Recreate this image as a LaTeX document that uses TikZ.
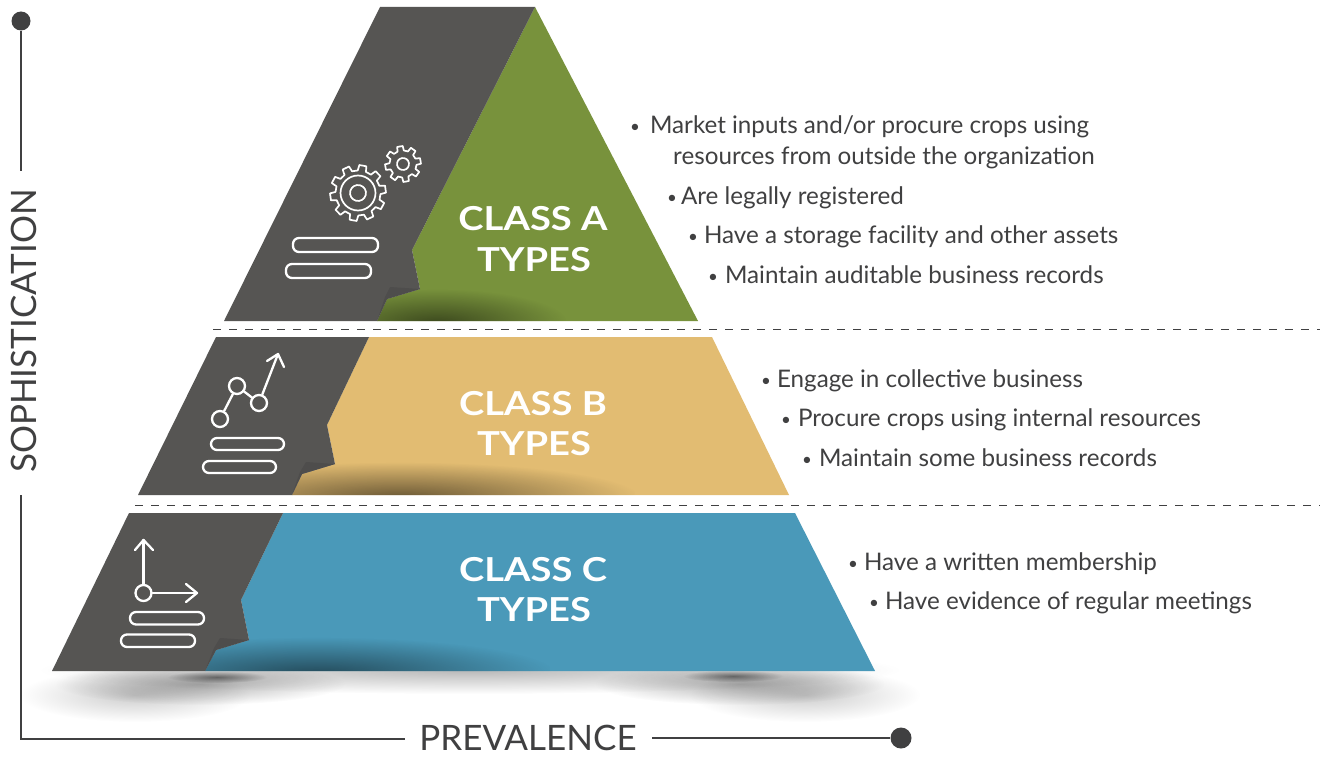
\documentclass[tikz,border=0pt]{standalone}
\usepackage{fontspec}
\setmainfont{Lato}
\newfontfamily\ttlfont[FakeStretch=1.155]{Lato}
\usetikzlibrary{fadings,arrows.meta}
\definecolor{ink}{HTML}{404041}
\definecolor{slate}{HTML}{565553}
\definecolor{folds}{HTML}{4E4D4C}
\definecolor{cgreen}{HTML}{78923C}
\definecolor{ctan}{HTML}{E2BC72}
\definecolor{cblue}{HTML}{4A99B9}
\tikzfading[name=softdot, inner color=transparent!0, outer color=transparent!100]
\newcommand{\bu}{{\fontsize{17}{17}\selectfont\raisebox{1.5pt}{•}}}
\tikzset{
  bul/.style={anchor=base west, inner sep=0pt, text=ink, font=\fontsize{24.2}{28}\selectfont},
  ttl/.style={inner sep=0pt, text=white, font=\fontsize{33}{38}\ttlfont\bfseries},
  axl/.style={inner sep=0pt, text=ink, font=\fontsize{35}{40}\selectfont},
  axis/.style={draw=ink, line width=2pt},
  dashy/.style={draw=ink, line width=1pt, dash pattern=on 8pt off 8pt},
  icon/.style={draw=white, line width=2.3pt, line join=round, line cap=round},
  pill/.style={icon, rounded corners=6pt},
  ring/.style={circle, draw=white, line width=2.3pt, inner sep=0pt, minimum size=16pt},
  soft/.style={fill=black, path fading=softdot},
}
\newcommand{\gearshape}[7]{% cx cy rout rin teeth rot hole
  \begin{scope}[shift={(#1,#2)}, rotate=#6]
    \pgfmathsetmacro{\stepang}{360/#5}
    \draw[draw=white, line width=1.7pt, line join=round]
      (-0.30*\stepang:#4)
      foreach \k in {1,...,#5} {
        -- ({(\k-1)*\stepang-0.20*\stepang}:#3)
        -- ({(\k-1)*\stepang+0.20*\stepang}:#3)
        -- ({(\k-1)*\stepang+0.30*\stepang}:#4)
        -- ({\k*\stepang-0.30*\stepang}:#4)
      } -- cycle;
    \draw[draw=white, line width=1.7pt] (0,0) circle [radius=#7];
  \end{scope}}
\begin{document}
\begin{tikzpicture}[x=1pt,y=-1pt]
\useasboundingbox (0,0) rectangle (1321,757);
\fill[white] (0,0) rectangle (1321,757);

% floor shadow
\fill[soft, opacity=.28] (470,670) ellipse [x radius=430, y radius=24];
\fill[soft, opacity=.20] (135,695) ellipse [x radius=115, y radius=27];
\fill[soft, opacity=.20] (805,695) ellipse [x radius=115, y radius=27];
\fill[soft, opacity=.30] (200,684) ellipse [x radius=145, y radius=21];
\fill[soft, opacity=.30] (740,684) ellipse [x radius=145, y radius=21];
\fill[soft, opacity=.45] (217,677) ellipse [x radius=50, y radius=6];
\fill[soft, opacity=.45] (733,676) ellipse [x radius=50, y radius=6];

% class A
\path[fill=cgreen] (535,7) -- (698,321) -- (377,321) -- (387,299) -- (420,289) -- (412,250) -- cycle;
\begin{scope}
  \clip (535,7) -- (698,321) -- (377,321) -- (387,299) -- (420,289) -- (412,250) -- cycle;
  \fill[soft, opacity=.50] (437,323) ellipse [x radius=130, y radius=34];
\end{scope}
\fill[slate] (380,7) -- (535,7) -- (412,250) -- (420,289) -- (387,299) -- (377,321) -- (224,321) -- cycle;
\fill[folds] (377,321) -- (387,299) -- (420,289) -- (390,287) -- (385,297) -- cycle;

% class B
\path[fill=ctan] (369,337) -- (712,337) -- (789,495) -- (292,495) -- (302,474) -- (335,464) -- (327,425) -- cycle;
\begin{scope}
  \clip (369,337) -- (635,337) -- (635,495) -- (292,495) -- (302,474) -- (335,464) -- (327,425) -- cycle;
  \fill[soft, opacity=.52] (400,497) ellipse [x radius=238, y radius=35];
\end{scope}
\fill[slate] (216,337) -- (369,337) -- (327,425) -- (335,464) -- (302,474) -- (292,495) -- (138,495) -- cycle;
\fill[folds] (292,495) -- (302,474) -- (335,464) -- (306,462) -- (300,472) -- cycle;

% class C
\path[fill=cblue] (283,513) -- (795,513) -- (875,671) -- (205,671) -- (216,650) -- (249,640) -- (241,600) -- cycle;
\begin{scope}
  \clip (283,513) -- (550,513) -- (550,671) -- (205,671) -- (216,650) -- (249,640) -- (241,600) -- cycle;
  \fill[soft, opacity=.50] (316,673) ellipse [x radius=238, y radius=36];
\end{scope}
\fill[slate] (129,513) -- (283,513) -- (241,600) -- (249,640) -- (216,650) -- (205,671) -- (52,671) -- cycle;
\fill[folds] (205,671) -- (216,650) -- (249,640) -- (220,638) -- (214,648) -- cycle;

% dashed separators
\coordinate (da1) at (213,329.5); \coordinate (da2) at (1320,329.5);
\coordinate (db1) at (135,505); \coordinate (db2) at (1320,505);
\draw[dashy] (da1) -- (da2);
\draw[dashy] (db1) -- (db2);

% titles
\node[ttl] (ta1) at (533,219) {CLASS A};
\node[ttl] (ta2) at (534,260) {TYPES};
\node[ttl] (tb1) at (533,404) {CLASS B};
\node[ttl] (tb2) at (534,444) {TYPES};
\node[ttl] (tc1) at (533,570) {CLASS C};
\node[ttl] (tc2) at (534,610) {TYPES};

% bullets
\node[bul] (a1) at (630,133.5) {\bu\hspace{10pt}Market inputs and/or procure crops using};
\node[bul] (a1b) at (673,164.5) {resources from outside the organization};
\node[bul] (a2) at (667,204.5) {\bu\hspace{4pt}Are legally registered};
\node[bul] (a3) at (688,243.5) {\bu\hspace{6pt}Have a storage facility and other assets};
\node[bul] (a4) at (708,283.5) {\bu\hspace{7pt}Maintain auditable business records};
\node[bul] (b1t) at (761,387.5) {\bu\hspace{6pt}Engage in collective business};
\node[bul] (b2t) at (781,426.5) {\bu\hspace{7pt}Procure crops using internal resources};
\node[bul] (b3t) at (802,466.5) {\bu\hspace{7pt}Maintain some business records};
\node[bul] (c1t) at (848,570.5) {\bu\hspace{6pt}Have a written membership};
\node[bul] (c2t) at (869,609.5) {\bu\hspace{6pt}Have evidence of regular meetings};

% axes
\node[circle, fill=ink, inner sep=0pt, minimum size=19pt] (dotv) at (21,21) {};
\node[circle, fill=ink, inner sep=0pt, minimum size=21pt] (doth) at (901,738) {};
\node[axl, rotate=90] (sop) at (24,331) {SOPHISTICATION};
\node[axl] (pre) at (528,738) {PREVALENCE};
\coordinate (corner) at (21,739);
\coordinate (v1) at (21,171); \coordinate (v2) at (21,495);
\coordinate (h1) at (405,739); \coordinate (h2) at (652,738);
\draw[axis] (dotv) -- (v1);
\draw[axis] (v2) -- (corner) -- (h1);
\draw[axis] (h2) -- (doth);

% icon A
\gearshape{358}{193}{28}{22.5}{10}{8}{8}
\draw[draw=white, line width=1.7pt] (358,193) circle [radius=17.5];
\gearshape{403}{164}{18}{13.5}{8}{10}{6}
\draw[pill] (293,238) rectangle (378,252);
\draw[pill] (286,264) rectangle (371,278);

% icon B
\node[ring] (r1) at (220,419) {};
\node[ring] (r2) at (237,386) {};
\node[ring] (r3) at (259,403) {};
\coordinate (rt) at (278,354);
\coordinate (ra1) at (267,361); \coordinate (ra2) at (284,367);
\draw[icon] (r1) -- (r2);
\draw[icon] (r2) -- (r3);
\draw[icon] (r3) -- (rt);
\draw[icon] (ra1) -- (rt) -- (ra2);
\draw[pill] (211,438) rectangle (284,450);
\draw[pill] (203,461) rectangle (276,473);

% icon C
\node[ring] (o) at (143.5,593) {};
\coordinate (up) at (143.5,540); \coordinate (rg) at (197,593);
\coordinate (u1) at (135,550); \coordinate (u2) at (153,550);
\coordinate (g1) at (186,584); \coordinate (g2) at (186,602);
\draw[icon] (o) -- (up);
\draw[icon] (u1) -- (up) -- (u2);
\draw[icon] (o) -- (rg);
\draw[icon] (g1) -- (rg) -- (g2);
\draw[pill] (130,612) rectangle (204,624.5);
\draw[pill] (121,634.5) rectangle (195,647);
\end{tikzpicture}
\end{document}
